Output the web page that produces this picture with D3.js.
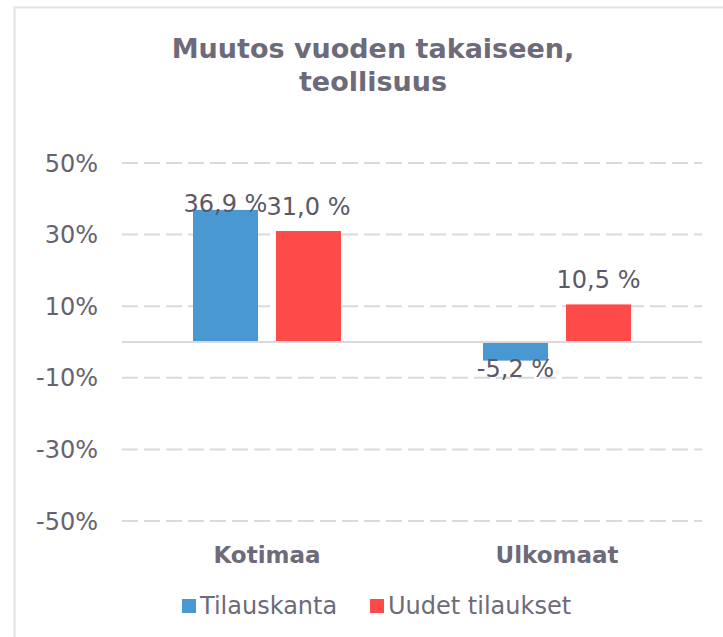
<!DOCTYPE html>
<html>
<head>
<meta charset="utf-8">
<script src="https://cdn.jsdelivr.net/npm/d3@7"></script>
<style>
  body { margin: 0; background: #fff; }
  text { font-family: "DejaVu Sans", Verdana, sans-serif; }
</style>
</head>
<body>
<div id="chartSection"></div>
<script>
// data
var categories = ["Kotimaa", "Ulkomaat"];
var seriesNames = ["Tilauskanta", "Uudet tilaukset"];
var tilauskanta = [36.9, -5.2];
var uudetTilaukset = [31.0, 10.5];
var tickValues = [-50, -30, -10, 10, 30, 50];
var colors = ["#4a98d1", "#ff4a4a"];

var width = 723, height = 637;
var svg = d3.select("#chartSection").append("svg")
    .attr("width", width)
    .attr("height", height);

svg.append("rect").attr("width", width).attr("height", height).attr("fill", "#fff");

// frame
svg.append("rect")
    .attr("x", 14.5).attr("y", 7.5)
    .attr("width", 740).attr("height", 660)
    .attr("fill", "none")
    .attr("stroke", "#e1e0e5")
    .attr("stroke-width", 2);

// title
var title = svg.append("text")
    .attr("text-anchor", "middle")
    .attr("font-weight", "bold")
    .attr("font-size", 27)
    .attr("fill", "#6d6a7a");
title.append("tspan").attr("x", 373).attr("y", 58).text("Muutos vuoden takaiseen,");
title.append("tspan").attr("x", 373).attr("y", 91).text("teollisuus");

var yScale = d3.scaleLinear().domain([-50, 50]).range([521, 163]);
var x0 = d3.scaleBand().domain(categories).range([122, 702]);
var x1 = d3.scaleBand().domain(seriesNames).range([71, 219]).paddingInner(0.2169);

var g = svg.append("g");

// gridlines
g.selectAll("line.grid")
    .data(tickValues)
    .enter().append("line")
    .attr("class", "grid")
    .attr("x1", 122).attr("x2", 702)
    .attr("y1", d => yScale(d)).attr("y2", d => yScale(d))
    .attr("stroke", "#d9d9de")
    .attr("stroke-width", 2)
    .attr("stroke-dasharray", "16,6");

// tick labels
g.selectAll("text.tick")
    .data(tickValues)
    .enter().append("text")
    .attr("class", "tick")
    .attr("x", 98)
    .attr("y", d => yScale(d))
    .attr("dy", "0.36em")
    .attr("text-anchor", "end")
    .attr("font-size", 24)
    .attr("fill", "#66636f")
    .text(d => d + "%");

// bars
var rows = [];
categories.forEach(function(c, i) {
    rows.push({ cat: c, series: seriesNames[0], value: tilauskanta[i], color: colors[0] });
    rows.push({ cat: c, series: seriesNames[1], value: uudetTilaukset[i], color: colors[1] });
});

g.selectAll("rect.bar")
    .data(rows)
    .enter().append("rect")
    .attr("class", "bar")
    .attr("x", d => x0(d.cat) + x1(d.series))
    .attr("width", x1.bandwidth())
    .attr("y", d => yScale(Math.max(0, d.value)))
    .attr("height", d => Math.abs(yScale(d.value) - yScale(0)))
    .attr("fill", d => d.color);

// zero line
g.append("line")
    .attr("x1", 122).attr("x2", 702)
    .attr("y1", yScale(0)).attr("y2", yScale(0))
    .attr("stroke", "#d9d9de")
    .attr("stroke-width", 2);

// value labels
var fi = d3.formatLocale({ decimal: ",", thousands: " ", grouping: [3], currency: ["", " €"], minus: "-" });
var fmt = fi.format(".1f");

g.selectAll("text.val")
    .data(rows)
    .enter().append("text")
    .attr("class", "val")
    .attr("x", d => x0(d.cat) + x1(d.series) + x1.bandwidth() / 2)
    .attr("y", function(d) {
        if (d.value < 0) return yScale(d.value) + 16;
        return Math.max(yScale(d.value) - 16, 212);
    })
    .attr("text-anchor", "middle")
    .attr("font-size", 24)
    .attr("fill", "#5b5868")
    .text(d => fmt(d.value) + " %");

// category labels
g.selectAll("text.cat")
    .data(categories)
    .enter().append("text")
    .attr("class", "cat")
    .attr("x", d => x0(d) + x0.bandwidth() / 2)
    .attr("y", 563)
    .attr("text-anchor", "middle")
    .attr("font-weight", "bold")
    .attr("font-size", 23)
    .attr("fill", "#6d6a7a")
    .text(d => d);

// legend
var legendX = [182, 370];
var leg = svg.selectAll("g.legend")
    .data(seriesNames)
    .enter().append("g")
    .attr("class", "legend")
    .attr("transform", (d, i) => "translate(" + legendX[i] + ",599)");
leg.append("rect")
    .attr("width", 14).attr("height", 14)
    .attr("fill", (d, i) => colors[i]);
leg.append("text")
    .attr("x", 18).attr("y", 15)
    .attr("font-size", 24)
    .attr("fill", "#6d6a7a")
    .text(d => d);
</script>
</body>
</html>
